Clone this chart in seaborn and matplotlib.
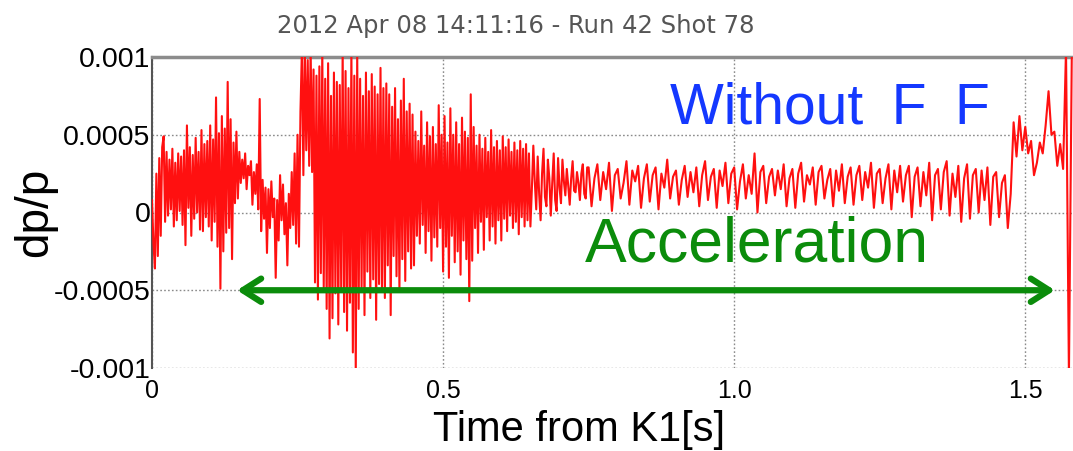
import numpy as np
import pandas as pd
import matplotlib
matplotlib.use("Agg")
import matplotlib.pyplot as plt
from matplotlib.ticker import MultipleLocator
import seaborn as sns

# Momentum deviation dp/p after K1, in units of 1e-4.
# The first 0.75 s is sampled every 2.5 ms, the rest every 5 ms.
fast_dt = 0.0025
slow_dt = 0.005
slow_start = 0.75

dpp_early = [
    0.8, -2.0, -3.6, 2.5, -2.8, 3.5, -1.5, 4.2, 4.9, -0.6, 3.9, -0.2, 3.4, 0.2, 4.1, -0.9, 3.2, -0.5, 3.8, 0.1,
    3.6, -0.8, 4.0, -2.1, 5.6, 0.3, 4.2, -1.5, 3.7, -0.4, 4.8, 0.0, 3.9, -1.1, 5.3, -1.2, 4.4, -0.3, 4.6, -0.9,
    5.6, -1.8, 4.7, -0.6, 7.4, -2.2, 5.1, -4.9, 6.2, -2.5, 5.4, -1.3, 8.4, -1.0, 6.0, -3.0, 4.5, 0.6, 5.2, 0.9,
    3.9, 1.9, 3.4, 2.2, 3.8, 1.5, 3.0, 2.4, 3.3, 0.5, 2.6, 1.2, 3.1, 0.2, 7.3, -1.2, 2.1, -0.4, 1.6, -2.6,
    1.5, -1.0, 2.0, -0.3, 0.9, -4.2, 0.8, -1.8, 2.4, -0.5, 1.8, -1.4, 0.6, -3.4, 1.2, -1.0, 2.6, -0.8, 3.8, -2.0,
]
dpp_burst = [
    5.0, -2.2, 6.5, 10.5, 2.4, 10.5, 4.0, 9.8, 3.0, 10.5, 2.6, 9.2, -4.5, 8.8, -5.6, 9.4, -3.9, 10.5, -4.8, 8.6,
    -6.2, 9.6, -8.1, 7.5, -6.8, 9.0, -5.2, 8.4, -7.2, 8.2, -5.0, 10.5, -6.4, 9.1, -7.6, 8.0, -5.8, 10.5, -9.0, 8.8,
    -10.5, 10.2, -6.2, 8.6, -4.8, 7.5, -6.6, 9.0, -3.8, 7.8, -5.5, 8.9, -4.3, 8.1, -6.9, 7.6, -4.6, 9.3, -5.1, 8.0,
    -5.5, 8.3, -3.4, 7.6, -6.6, 6.8, -2.8, 8.0, -4.1, 6.0, -5.0, 7.2, -3.0, 8.6, -4.4, 6.5, -2.5, 7.0, -3.6, 6.3,
    -3.4, 5.2, -1.5, 4.6, -2.0, 6.5, -0.8, 4.3, -2.6, 5.8, -1.2, 4.9, -3.1, 5.5, -1.6, 4.4, -2.2, 6.9, -1.0, 5.0,
    -3.8, 6.2, -2.2, 4.5, -4.2, 6.7, -1.5, 5.0, -3.2, 5.8, -2.5, 4.4, -4.0, 6.1, -1.8, 5.2, -3.0, 4.8, -5.7, 7.6,
    -3.1, 5.5, -1.0, 4.3, -2.6, 5.0, -0.6, 4.1, -2.4, 4.8, -0.3, 3.9, -1.8, 5.3, -0.9, 4.2, -2.0, 4.6, -0.5, 4.0,
    -1.8, 4.9, -0.4, 4.2, -1.2, 4.7, -0.2, 3.9, -1.0, 4.5, -0.6, 4.0, -1.4, 4.6, -0.3, 4.1, -0.9, 4.4, -0.5, 3.8,
    -0.9, 1.5, 4.3, 2.0, 0.2, 3.6, 1.2, -0.5, 2.5, 4.1, 1.0, 0.4, 3.4, 2.2, -0.2, 1.9, 3.8, 0.8, 0.1, 3.5,
    1.6, 0.6, 3.4, 2.0, 1.1, 2.8, 1.7, 0.5, 2.2, 3.3, 1.4, 1.3, 2.6, 1.9, 0.8, 2.5, 3.1, 1.2, 0.9, 2.9,
]
dpp_flat = [
    2.9, 0.4, 2.2, 3.1, 0.8, 2.6, 1.5, 3.2, 0.1, 2.4,
    2.8, 0.9, 1.9, 3.3, 0.5, 2.7, 2.0, 3.0, 0.3, 2.2,
    3.1, 0.7, 2.4, 2.9, 0.2, 2.5, 1.6, 3.4, 0.9, 2.3,
    2.7, 0.5, 2.1, 3.0, 1.0, 2.6, 1.3, 2.9, 0.4, 2.4,
    3.3, 0.8, 2.3, 2.8, 0.3, 2.7, 1.7, 3.2, 0.6, 2.5,
    2.9, 0.2, 2.0, 3.1, 0.9, 2.4, 1.2, 3.8, 0.0, 2.6,
    3.0, 0.6, 2.3, 2.8, 1.1, 2.7, 1.5, 3.1, 0.4, 2.2,
    2.8, 0.3, 2.5, 3.2, 0.7, 2.4, 1.8, 2.9, 0.5, 2.6,
    3.0, 0.9, 2.1, 2.8, 0.4, 2.7, 1.4, 3.1, 0.6, 2.3,
    2.9, 0.5, 2.4, 3.0, 0.8, 2.6, 1.6, 3.2, 0.3, 2.5,
    2.8, 0.6, 2.2, 3.1, 0.2, 2.7, 1.3, 3.0, 0.7, 2.4,
    3.0, -0.3, 2.3, 2.9, 0.4, 2.6, 1.1, 3.2, -0.5, 2.4,
    2.8, 0.2, 2.6, 3.3, -0.2, 2.5, 1.0, 3.0, -0.6, 2.2,
    3.1, -0.4, 2.4, 2.8, 0.0, 2.7, 0.8, 2.9, -0.8, 2.3,
]
dpp_end = [
    2.6, -0.3, 1.9, 2.4, -1.0, 1.2, 5.8, 3.6, 6.2, 4.0,
    5.5, 3.8, 4.6, 2.4, 3.2, 4.5, 3.8, 5.6, 7.8, 5.0,
    5.2, 3.0, 4.4, 2.8, 10.5, -10.5, 10.5,
]

y_ticks = [0.001, 0.0005, 0.0, -0.0005, -0.001]
y_tick_labels = ["0.001", "0.0005", "0", "-0.0005", "-0.001"]
x_ticks = [0.0, 0.5, 1.0, 1.5]
x_tick_labels = ["0", "0.5", "1.0", "1.5"]

title_text = "2012 Apr 08 14:11:16 - Run 42 Shot 78"
mode_text = "Without\u2002F\u2002F"
phase_text = "Acceleration"
accel_start, accel_end, accel_level = 0.146, 1.551, -0.0005

fast_vals = np.array(dpp_early + dpp_burst)
slow_vals = np.array(dpp_flat + dpp_end)
t = np.concatenate([np.arange(len(fast_vals)) * fast_dt,
                    slow_start + np.arange(len(slow_vals)) * slow_dt])
dpp = np.concatenate([fast_vals, slow_vals]) * 1e-4
df = pd.DataFrame({"t": t, "dpp": dpp})

sns.set_theme(style="white")
plt.rcParams["font.family"] = ["Liberation Sans", "DejaVu Sans"]
plt.rcParams["text.color"] = "black"

W, H = 1073, 451
fig = plt.figure(figsize=(W / 100, H / 100), dpi=100)
ax = fig.add_axes([152 / W, 1 - 368 / H, 1 - 152 / W, (368 - 57) / H])

sns.lineplot(data=df, x="t", y="dpp", ax=ax, color="#ff1010", lw=1.5,
             sort=False, estimator=None, zorder=3)

ax.set_xlim(0, 1.582)
ax.set_ylim(-0.001, 0.001)
ax.set_xticks(x_ticks)
ax.set_xticklabels(x_tick_labels, fontsize=18)
ax.set_yticks(y_ticks)
ax.set_yticklabels(y_tick_labels, fontsize=20.5)
ax.yaxis.set_minor_locator(MultipleLocator(0.0001))
ax.xaxis.set_minor_locator(MultipleLocator(0.1))
ax.tick_params(axis="y", which="major", direction="in", length=22, width=1.3,
               color="#333333", pad=1, labelcolor="black")
ax.tick_params(axis="y", which="minor", direction="in", length=8, width=1.3,
               color="#444444")
ax.tick_params(axis="x", which="major", direction="in", length=8, width=1.6,
               color="#888888", pad=8, labelcolor="black")
ax.tick_params(axis="x", which="minor", direction="in", length=4, width=1.0,
               color="#bbbbbb")
ax.grid(True, which="major", color="#8a8a8a", linestyle=(0, (1.2, 1.6)), lw=1.0)
ax.set_axisbelow(True)
ax.set_xlabel("")
ax.set_ylabel("")
for side in ["right", "bottom"]:
    ax.spines[side].set_visible(False)
ax.spines["top"].set_color("#8c8c8c")
ax.spines["top"].set_linewidth(2.5)
ax.spines["left"].set_color("#555555")
ax.spines["left"].set_linewidth(1.5)

# Acceleration interval marker
ax.annotate("", xy=(accel_start, accel_level), xytext=(accel_end, accel_level),
            arrowprops=dict(arrowstyle="<->,head_length=1.1,head_width=0.7",
                            color="#0b8c0b", lw=4.5, capstyle="round",
                            joinstyle="round", shrinkA=0, shrinkB=0),
            zorder=5)

fig.text(670 / W, 1 - 123 / H, mode_text, color="#1438ff", fontsize=41,
         ha="left", va="baseline")
fig.text(585 / W, 1 - 262 / H, phase_text, color="#0b8c0b", fontsize=45,
         ha="left", va="baseline")
fig.text(516 / W, 1 - 33 / H, title_text, color="#555555", fontsize=17.5,
         family="DejaVu Sans", ha="center", va="baseline")
fig.text(579 / W, 1 - 430 / H, "Time from K1[s]", color="black", fontsize=30,
         ha="center", va="center")
fig.text(35 / W, 1 - 212 / H, "dp/p", color="black", fontsize=33, rotation=90,
         ha="center", va="center")

fig.savefig("out.png", dpi=100)
